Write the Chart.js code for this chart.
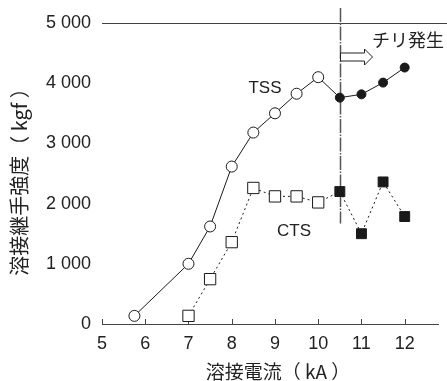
<!DOCTYPE html>
<html>
<head>
<meta charset="utf-8">
<script src="https://cdn.jsdelivr.net/npm/chart.js@4"></script>
<style>
  html, body { margin: 0; padding: 0; background: #fff; }
  #wrap { width: 447px; height: 381px; }
</style>
</head>
<body>
<div id="wrap"><canvas id="chart" width="447" height="381"></canvas></div>
<script>
// welding current (kA)
const current = [5.75, 7, 7.5, 8, 8.5, 9, 9.5, 10, 10.5, 11, 11.5, 12];
const tssValues = [135, 1000, 1620, 2615, 3180, 3500, 3825, 4100, 3760, 3815, 4010, 4260];
const ctsCurrent = [7, 7.5, 8, 8.5, 9, 9.5, 10, 10.5, 11, 11.5, 12];
const ctsValues = [135, 745, 1360, 2260, 2120, 2120, 2020, 2200, 1500, 2360, 1785];
const xTicks = [5, 6, 7, 8, 9, 10, 11, 12];
const yTicks = [0, 1000, 2000, 3000, 4000, 5000];
const splashAt = 10.5; // チリ発生 from here on

const ink = "#1a1a1a";
const fillFor = xs => xs.map(x => x >= splashAt ? ink : "#fff");
const sizeFor = (xs, open, filled) => xs.map(x => x >= splashAt ? filled : open);

const fmt = v => v >= 1000 ? Math.floor(v / 1000) + " " + String(v % 1000).padStart(3, "0") : String(v);

const overlay = {
  id: "overlay",
  beforeDatasetsDraw(chart) {
    const { ctx, chartArea: a, scales: { x, y } } = chart;
    ctx.save();
    ctx.strokeStyle = "#444";
    ctx.lineWidth = 1;
    // top border
    ctx.beginPath();
    ctx.moveTo(a.left, a.top + 0.5);
    ctx.lineTo(chart.width, a.top + 0.5);
    ctx.stroke();
    // small ticks inside the bottom axis
    xTicks.forEach(t => {
      const px = Math.round(x.getPixelForValue(t)) + 0.5;
      ctx.beginPath();
      ctx.moveTo(px, a.bottom);
      ctx.lineTo(px, a.bottom - 5);
      ctx.stroke();
    });
    // dash-dot line where splash starts
    const vx = Math.round(x.getPixelForValue(splashAt)) + 0.5;
    ctx.strokeStyle = "#555";
    ctx.lineWidth = 1.5;
    ctx.setLineDash([14, 1.5, 1.5, 1.5]);
    ctx.beginPath();
    ctx.moveTo(vx, 8);
    ctx.lineTo(vx, y.getPixelForValue(1670));
    ctx.stroke();
    ctx.setLineDash([]);
    // hollow arrow
    const ay = 57;
    ctx.lineWidth = 1;
    ctx.strokeStyle = "#222";
    ctx.fillStyle = "#fff";
    ctx.beginPath();
    ctx.moveTo(vx, ay - 4);
    ctx.lineTo(vx + 24, ay - 4);
    ctx.lineTo(vx + 24, ay - 8);
    ctx.lineTo(vx + 32, ay);
    ctx.lineTo(vx + 24, ay + 8);
    ctx.lineTo(vx + 24, ay + 4);
    ctx.lineTo(vx, ay + 4);
    ctx.closePath();
    ctx.fill();
    ctx.stroke();
    ctx.restore();
  },
  afterDraw(chart) {
    const { ctx } = chart;
    ctx.save();
    ctx.fillStyle = "#222";
    ctx.textAlign = "center";
    ctx.textBaseline = "middle";
    ctx.font = "17px 'Liberation Sans', Arial, sans-serif";
    ctx.fillText("TSS", 265, 88);
    ctx.fillText("CTS", 294, 231);
    ctx.font = "18px 'Noto Sans CJK JP', sans-serif";
    ctx.textAlign = "left";
    ctx.fillText("チリ発生", 372, 40);
    ctx.textAlign = "center";
    ctx.font = "19px 'Noto Sans CJK JP', sans-serif";
    ctx.fillText("溶接電流（ kA ）", 278, 372);
    ctx.font = "20px 'Noto Sans CJK JP', sans-serif";
    ctx.translate(19, 177);
    ctx.rotate(-Math.PI / 2);
    ctx.fillText("溶接継手強度（ kgf ）", 0, 0);
    ctx.restore();
  }
};

new Chart(document.getElementById("chart"), {
  type: "scatter",
  data: {
    datasets: [
      {
        label: "TSS",
        data: current.map((c, i) => ({ x: c, y: tssValues[i] })),
        showLine: true,
        borderColor: ink,
        borderWidth: 1,
        pointStyle: "circle",
        pointRadius: sizeFor(current, 5.5, 4.5),
        pointBorderWidth: 1,
        pointBorderColor: ink,
        pointBackgroundColor: fillFor(current)
      },
      {
        label: "CTS",
        data: ctsCurrent.map((c, i) => ({ x: c, y: ctsValues[i] })),
        showLine: true,
        borderColor: ink,
        borderWidth: 1,
        borderDash: [2, 3],
        pointStyle: "rect",
        pointRadius: sizeFor(ctsCurrent, 8, 7),
        pointBorderWidth: 1,
        pointBorderColor: ink,
        pointBackgroundColor: fillFor(ctsCurrent)
      }
    ]
  },
  options: {
    responsive: false,
    animation: false,
    layout: { padding: { top: 23, right: 0, bottom: 0, left: 0 } },
    plugins: { legend: { display: false }, tooltip: { enabled: false } },
    scales: {
      x: {
        type: "linear",
        min: 5,
        max: 12.77,
        afterBuildTicks: s => { s.ticks = xTicks.map(v => ({ value: v })); },
        afterFit: s => { s.height = 57; },
        grid: { display: false, drawTicks: false },
        border: { display: true, color: "#444", width: 1 },
        ticks: {
          color: "#222",
          padding: 9,
          maxRotation: 0,
          font: { family: "'Liberation Sans', Arial, sans-serif", size: 18 }
        }
      },
      y: {
        min: 0,
        max: 5000,
        afterBuildTicks: s => { s.ticks = yTicks.map(v => ({ value: v })); },
        afterFit: s => { s.width = 102; },
        grid: { display: false, drawTicks: false },
        border: { display: false },
        ticks: {
          color: "#222",
          padding: 11,
          callback: v => fmt(v),
          font: { family: "'Liberation Sans', Arial, sans-serif", size: 18 }
        }
      }
    }
  },
  plugins: [overlay]
});
</script>
</body>
</html>
